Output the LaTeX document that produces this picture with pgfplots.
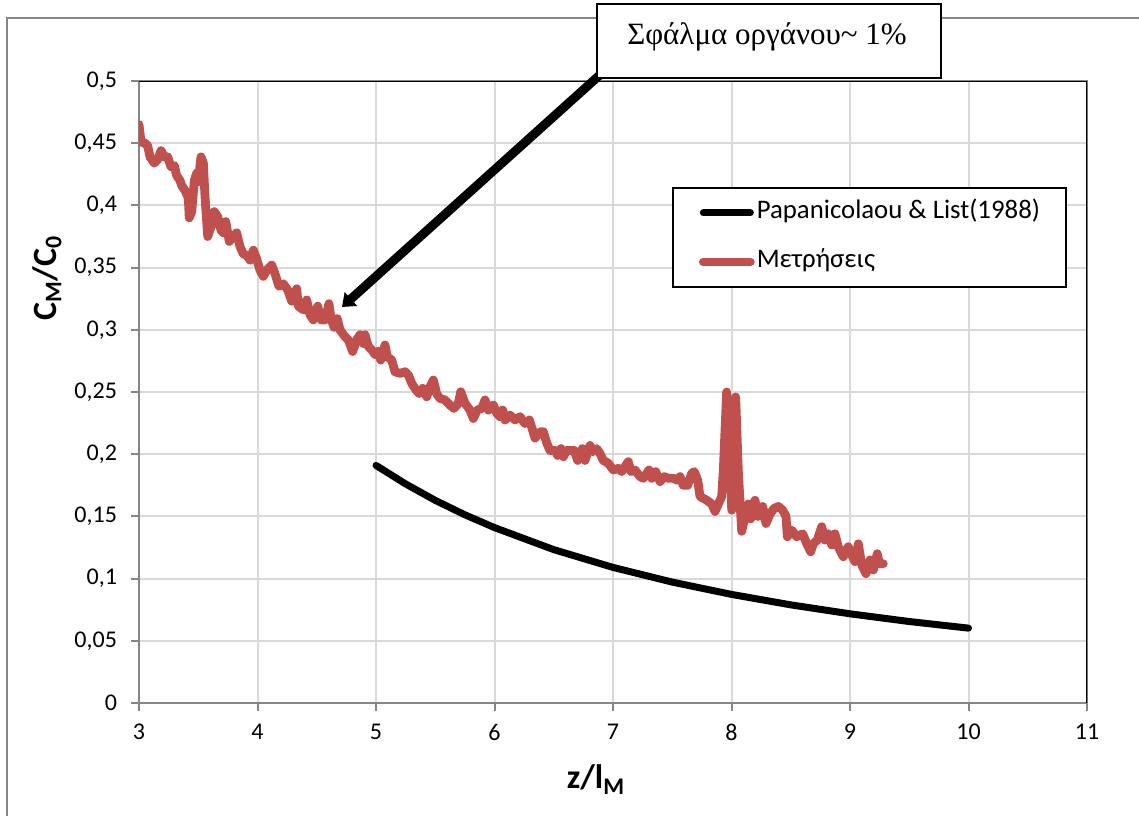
\documentclass[border=0pt]{standalone}
\usepackage{pgfplots}
\pgfplotsset{compat=1.18}
\usepackage{fontspec}
\setmainfont{Carlito}
\newfontfamily\timesfont{Liberation Serif}
\usetikzlibrary{arrows.meta}
\definecolor{exred}{RGB}{192,80,77}
\definecolor{gridgray}{RGB}{217,217,217}
\definecolor{axisgray}{RGB}{134,134,134}
\begin{document}
\begin{tikzpicture}[x=0.5pt,y=0.5pt]
\begin{axis}[
  at={(69.5pt,56.5pt)}, anchor=south west,
  width=474pt, height=311pt, scale only axis,
  xmin=3, xmax=11, ymin=0, ymax=0.5,
  xtick={3,4,5,6,7,8,9,10,11},
  xticklabels={3,4,5,6,7,8,9,10,11},
  ytick={0,0.05,0.1,0.15,0.2,0.25,0.3,0.35,0.4,0.45,0.5},
  yticklabels={{0},{0,05},{0,1},{0,15},{0,2},{0,25},{0,3},{0,35},{0,4},{0,45},{0,5}},
  grid=major,
  grid style={line width=1pt, color=gridgray},
  axis line style={line width=1pt, color=axisgray},
  tick style={line width=1pt, color=axisgray},
  tick align=outside, tick pos=left, major tick length=4pt,
  tick label style={font=\fontsize{12}{14}\selectfont, text=black},
  yticklabel style={xshift=-3.5pt},
  xticklabel style={yshift=-3pt},
  xlabel={z/l\textsubscript{M}},
  ylabel={C\textsubscript{M}/C\textsubscript{0}},
  label style={font=\fontsize{17}{20}\selectfont\bfseries},
  xlabel style={at={(axis description cs:0.482,-0.138)}, anchor=base},
  ylabel style={at={(axis description cs:-0.097,0.683)}, anchor=center},
  legend style={at={(axis description cs:0.5622,0.8296)}, anchor=north west,
    draw=black, line width=1pt, inner xsep=13pt, inner ysep=6.5pt,
    row sep=12.5pt, column sep=1pt,
    font=\fontsize{13.4}{15}\selectfont,
    nodes={inner sep=0pt, text height=9pt, text depth=3pt}},
  legend cell align=left,
  legend image code/.code={\draw[#1] (0pt,0pt) -- (23.5pt,0pt);},
]
\addplot[black, line width=3.5pt, line cap=round] coordinates {
(5,0.191)(5.25,0.1761)(5.5,0.1629)(5.75,0.1513)(6,0.1410)(6.5,0.1233)(7,0.1090)(7.5,0.0972)(8,0.0873)(8.5,0.0789)(9,0.0717)(9.5,0.0655)(10,0.0602)
};
\addlegendentry{Papanicolaou \& List(1988)}
\addplot[exred, line width=4.4pt, line join=round, line cap=round] coordinates {
(3.000,0.465)(3.017,0.451)(3.051,0.450)(3.073,0.448)(3.093,0.439)(3.129,0.434)(3.158,0.437)(3.186,0.444)(3.214,0.439)(3.242,0.439)(3.270,0.431)(3.298,0.432)(3.318,0.424)(3.346,0.420)(3.360,0.416)(3.388,0.412)(3.416,0.406)(3.424,0.390)(3.445,0.395)(3.467,0.420)(3.487,0.426)(3.500,0.419)(3.523,0.439)(3.543,0.434)(3.557,0.407)(3.580,0.375)(3.608,0.383)(3.635,0.395)(3.664,0.391)(3.692,0.380)(3.711,0.378)(3.732,0.387)(3.762,0.371)(3.796,0.375)(3.824,0.378)(3.852,0.367)(3.880,0.361)(3.909,0.360)(3.937,0.356)(3.965,0.364)(3.993,0.357)(4.021,0.348)(4.049,0.343)(4.078,0.348)(4.120,0.352)(4.148,0.345)(4.181,0.335)(4.218,0.337)(4.255,0.332)(4.289,0.323)(4.331,0.333)(4.344,0.319)(4.387,0.316)(4.415,0.324)(4.443,0.312)(4.471,0.308)(4.508,0.319)(4.536,0.308)(4.570,0.308)(4.603,0.321)(4.620,0.309)(4.646,0.302)(4.673,0.309)(4.696,0.300)(4.738,0.2945)(4.766,0.292)(4.803,0.2826)(4.837,0.292)(4.865,0.296)(4.893,0.289)(4.907,0.296)(4.935,0.2865)(4.964,0.284)(4.992,0.280)(5.019,0.2826)(5.040,0.2757)(5.076,0.2878)(5.095,0.2784)(5.133,0.2757)(5.160,0.2663)(5.203,0.265)(5.245,0.2663)(5.273,0.2637)(5.301,0.257)(5.338,0.2516)(5.365,0.2487)(5.394,0.2529)(5.428,0.2462)(5.456,0.2543)(5.484,0.2596)(5.512,0.2487)(5.540,0.2448)(5.582,0.2436)(5.624,0.2395)(5.658,0.2368)(5.695,0.2409)(5.715,0.2502)(5.751,0.2409)(5.793,0.2355)(5.821,0.2287)(5.855,0.2355)(5.892,0.2368)(5.920,0.2436)(5.948,0.2355)(5.990,0.2395)(6.019,0.2329)(6.046,0.2302)(6.069,0.2355)(6.089,0.2275)(6.131,0.2315)(6.173,0.2275)(6.215,0.2302)(6.257,0.2246)(6.294,0.2275)(6.316,0.221)(6.342,0.213)(6.384,0.218)(6.412,0.218)(6.441,0.209)(6.468,0.203)(6.511,0.203)(6.533,0.199)(6.561,0.2045)(6.581,0.198)(6.609,0.203)(6.651,0.203)(6.673,0.203)(6.702,0.195)(6.741,0.2045)(6.764,0.195)(6.806,0.207)(6.834,0.202)(6.862,0.2045)(6.890,0.2006)(6.918,0.195)(6.960,0.1927)(7.003,0.1873)(7.045,0.1886)(7.073,0.186)(7.101,0.190)(7.129,0.194)(7.152,0.186)(7.186,0.1873)(7.228,0.182)(7.256,0.1806)(7.284,0.1846)(7.304,0.1873)(7.327,0.1806)(7.360,0.186)(7.397,0.178)(7.433,0.182)(7.467,0.1806)(7.509,0.1806)(7.546,0.179)(7.565,0.182)(7.593,0.175)(7.630,0.175)(7.664,0.1846)(7.686,0.186)(7.715,0.179)(7.734,0.166)(7.791,0.163)(7.833,0.160)(7.861,0.154)(7.889,0.160)(7.917,0.166)(7.931,0.187)(7.959,0.250)(7.981,0.214)(8.002,0.155)(8.015,0.174)(8.035,0.246)(8.057,0.187)(8.086,0.138)(8.114,0.150)(8.142,0.160)(8.162,0.148)(8.198,0.163)(8.226,0.150)(8.263,0.158)(8.291,0.1443)(8.325,0.152)(8.359,0.1564)(8.395,0.158)(8.432,0.155)(8.460,0.150)(8.471,0.1337)(8.508,0.139)(8.550,0.1337)(8.601,0.136)(8.635,0.128)(8.668,0.1216)(8.690,0.128)(8.724,0.131)(8.761,0.1417)(8.789,0.131)(8.817,0.136)(8.846,0.127)(8.873,0.136)(8.901,0.1256)(8.943,0.1176)(8.985,0.1256)(9.014,0.119)(9.042,0.1136)(9.070,0.128)(9.099,0.111)(9.135,0.104)(9.169,0.115)(9.197,0.107)(9.230,0.120)(9.247,0.112)(9.281,0.112)
};
\addlegendentry{Μετρήσεις}
\draw[black, line width=1pt] (rel axis cs:0,1) -- (rel axis cs:1,1) -- (rel axis cs:1,0);
\end{axis}
% outer chart border
\draw[axisgray, line width=1pt] (7,0) -- (7,798) -- (1139,798);
% arrow and text box
\draw[black, line width=4.5pt, -{Triangle[width=9pt,length=6pt]}] (612,752) -- (342,509);
\node[draw=black, fill=white, line width=1pt, minimum width=172pt, minimum height=37pt, anchor=south west, inner sep=0pt] at (596,737) {};
\node[font=\timesfont\fontsize{15.5}{18}\selectfont, anchor=base] at (767,771) {Σφάλμα οργάνου\textasciitilde{} 1\%};
\pgfresetboundingbox
\path[use as bounding box] (0,0) rectangle (1139,816);
\end{tikzpicture}
\end{document}
